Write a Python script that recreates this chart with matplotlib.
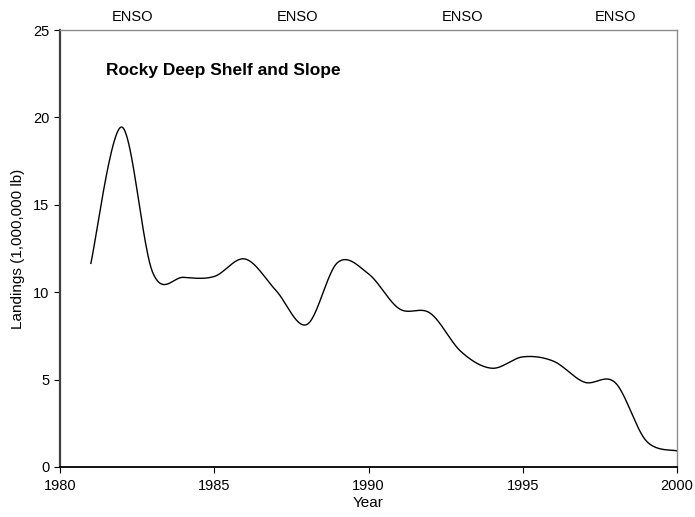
import matplotlib
matplotlib.use("Agg")
import matplotlib.pyplot as plt
import numpy as np

plt.rcParams["font.family"] = ["Liberation Sans", "DejaVu Sans"]

# ── Data ────────────────────────────────────────────────────────────────
years = [1981, 1982, 1983, 1984, 1985, 1986, 1987, 1988, 1989, 1990,
         1991, 1992, 1993, 1994, 1995, 1996, 1997, 1998, 1999, 2000]
landings = [11.65, 19.45, 11.15, 10.85, 10.9, 11.9, 10.1, 8.15, 11.7, 11.05,
            9.05, 8.8, 6.6, 5.65, 6.3, 6.05, 4.85, 4.82, 1.5, 0.92]

enso_x = [1982.35, 1987.7, 1993.05, 1998.0]
enso_labels = ["ENSO", "ENSO", "ENSO", "ENSO"]


def smooth(xs, ys, n=40):
    """Excel-style smoothed line (Catmull-Rom through the points)."""
    xs = np.asarray(xs, float)
    ys = np.asarray(ys, float)
    px = np.concatenate([[xs[0]], xs, [xs[-1]]])
    py = np.concatenate([[ys[0]], ys, [ys[-1]]])
    out_x, out_y = [], []
    t = np.linspace(0, 1, n, endpoint=False)
    for i in range(1, len(px) - 2):
        p0, p1, p2, p3 = px[i - 1], px[i], px[i + 1], px[i + 2]
        q0, q1, q2, q3 = py[i - 1], py[i], py[i + 1], py[i + 2]
        h00 = 2 * t**3 - 3 * t**2 + 1
        h10 = t**3 - 2 * t**2 + t
        h01 = -2 * t**3 + 3 * t**2
        h11 = t**3 - t**2
        out_x.append(h00 * p1 + h10 * (p2 - p0) / 2 + h01 * p2 + h11 * (p3 - p1) / 2)
        out_y.append(h00 * q1 + h10 * (q2 - q0) / 2 + h01 * q2 + h11 * (q3 - q1) / 2)
    out_x.append([xs[-1]])
    out_y.append([ys[-1]])
    return np.concatenate(out_x), np.concatenate(out_y)


fig = plt.figure(figsize=(6.95, 5.17), dpi=100)
ax = fig.add_axes([60 / 695, 1 - 467 / 517, 617 / 695, 437 / 517])

sx, sy = smooth(years, landings)
ax.plot(sx, sy, color="black", linewidth=1.0)

ax.set_xlim(1980, 2000)
ax.set_ylim(0, 25)
ax.set_xticks([1980, 1985, 1990, 1995, 2000])
ax.set_yticks([0, 5, 10, 15, 20, 25])
ax.tick_params(axis="both", direction="out", length=4, width=0.8,
               labelsize=10.5, colors="black")
ax.tick_params(axis="x", pad=5)

for side in ["top", "right"]:
    ax.spines[side].set_color("#8c8c8c")
    ax.spines[side].set_linewidth(1.0)
ax.spines["left"].set_color("#404040")
ax.spines["left"].set_linewidth(1.6)
ax.spines["bottom"].set_color("black")
ax.spines["bottom"].set_linewidth(1.3)

ax.set_xlabel("Year", fontsize=11, labelpad=2)
ax.set_ylabel("Landings (1,000,000 lb)", fontsize=11, labelpad=6)

ax.text(1981.5, 22.7, "Rocky Deep Shelf and Slope", fontsize=12.5,
        fontweight="bold", ha="left", va="center")

for x, lab in zip(enso_x, enso_labels):
    ax.text(x, 25.75, lab, fontsize=10.5, ha="center", va="center",
            clip_on=False)

fig.savefig("out.png", dpi=100)
